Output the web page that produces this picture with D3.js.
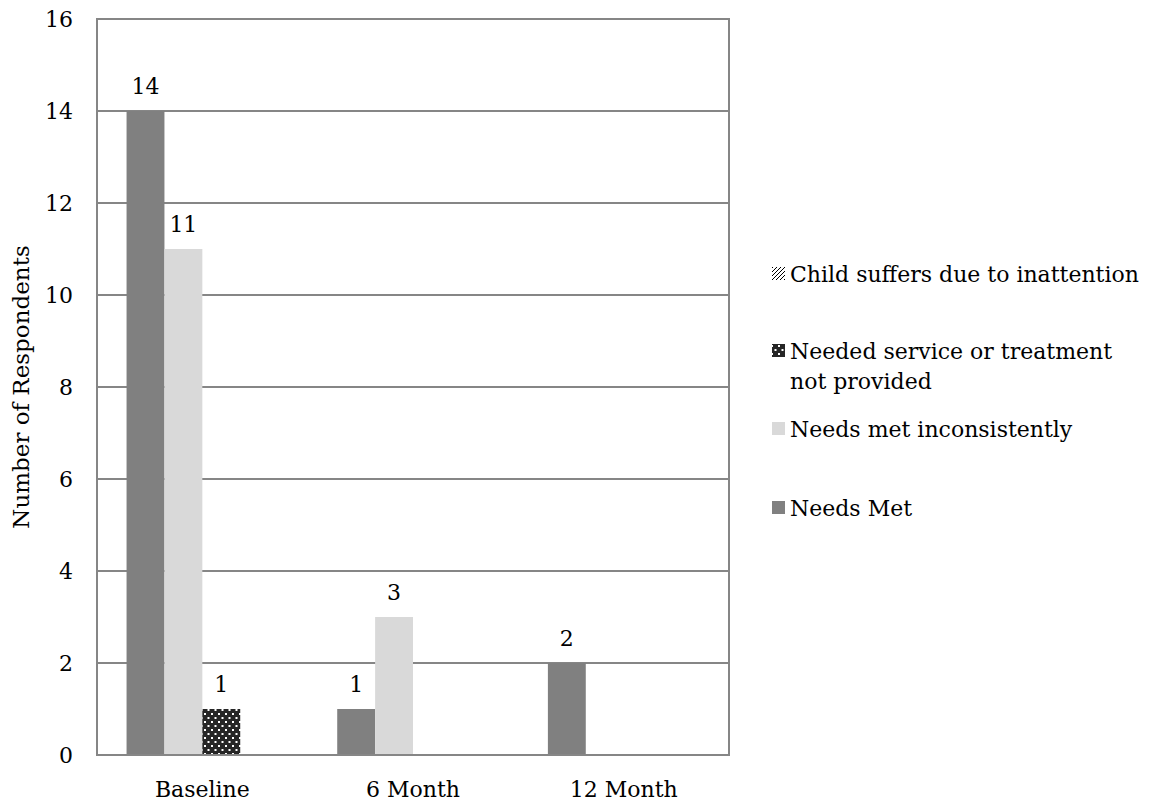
<!DOCTYPE html>
<html><head><meta charset="utf-8">
<script src="https://cdn.jsdelivr.net/npm/d3@7"></script>
<style>body{margin:0;background:#fff}</style>
</head><body>
<svg id="c" width="1149" height="804"></svg>
<script>
const categories = ["Baseline", "6 Month", "12 Month"];
const seriesNames = ["Needs Met", "Needs met inconsistently", "Needed service or treatment not provided", "Child suffers due to inattention"];
const needsMet = [14, 1, 2];
const needsInconsistent = [11, 3, 0];
const notProvided = [1, 0, 0];
const childSuffers = [0, 0, 0];
const yTicks = [0, 2, 4, 6, 8, 10, 12, 14, 16];

const seriesValues = [needsMet, needsInconsistent, notProvided, childSuffers];
const svg = d3.select("#c");
const font = "DejaVu Serif, serif";
const fs = 22;
const m = {l: 97, r: 729, t: 19, b: 755};

const defs = svg.append("defs");
const dots = defs.append("pattern").attr("id","dots").attr("patternUnits","userSpaceOnUse").attr("width",7).attr("height",8);
dots.append("rect").attr("width",7).attr("height",8).attr("fill","#262626");
dots.append("rect").attr("x",1).attr("y",1).attr("width",2).attr("height",2).attr("fill","#fff");
dots.append("rect").attr("x",4.5).attr("y",5).attr("width",2).attr("height",2).attr("fill","#fff");
const hatch = defs.append("pattern").attr("id","hatch").attr("patternUnits","userSpaceOnUse").attr("width",4).attr("height",4);
hatch.append("rect").attr("width",4).attr("height",4).attr("fill","#fff");
hatch.append("path").attr("d","M-1,1 l2,-2 M0,4 l4,-4 M3,5 l2,-2").attr("stroke","#000").attr("stroke-width",1);

const fills = ["#808080", "#d9d9d9", "url(#dots)", "url(#hatch)"];

const x = d3.scaleBand().domain(categories).range([m.l, m.r]);
const x1 = d3.scaleBand().domain(d3.range(4)).range([0, x.bandwidth()]).paddingOuter(0.78).paddingInner(0);
const y = d3.scaleLinear().domain([0, 16]).range([m.b, m.t]);

svg.append("g").selectAll("line").data(yTicks).join("line")
  .attr("x1", m.l).attr("x2", m.r).attr("y1", d=>y(d)).attr("y2", d=>y(d))
  .attr("stroke", "#868686").attr("stroke-width", 2);
svg.append("rect").attr("x", m.l).attr("y", m.t).attr("width", m.r-m.l).attr("height", m.b-m.t)
  .attr("fill","none").attr("stroke","#868686").attr("stroke-width",2);

categories.forEach((c, ci) => {
  seriesValues.forEach((vals, si) => {
    const v = vals[ci];
    if (v <= 0) return;
    const bx = x(c) + x1(si);
    svg.append("rect").attr("x", bx).attr("y", y(v)).attr("width", x1.bandwidth()).attr("height", y(0)-y(v))
      .attr("fill", fills[si]);
    svg.append("text").attr("x", bx + x1.bandwidth()/2).attr("y", y(v) - 17)
      .attr("text-anchor","middle").attr("font-family",font).attr("font-size",fs).attr("fill","#000").text(v);
  });
});
svg.append("line").attr("x1", m.l).attr("x2", m.r).attr("y1", m.b).attr("y2", m.b).attr("stroke","#868686").attr("stroke-width",2);

const yAxis = svg.append("g").attr("transform", `translate(${m.l},0)`)
  .call(d3.axisLeft(y).tickValues(yTicks).tickSize(0).tickPadding(24));
yAxis.select(".domain").remove();
yAxis.selectAll("text").attr("font-family", font).attr("font-size", fs).attr("fill","#000");

const xAxis = svg.append("g").attr("transform", `translate(0,${m.b})`)
  .call(d3.axisBottom(x).tickSize(0).tickPadding(26));
xAxis.select(".domain").remove();
xAxis.selectAll("text").attr("font-family", font).attr("font-size", fs).attr("fill","#000");

svg.append("text").attr("transform", "translate(29,387) rotate(-90)").attr("text-anchor","middle")
  .attr("font-family", font).attr("font-size", 23).attr("fill","#000").text("Number of Respondents");

const legend = [
  {i: 3, y: 274, lines: ["Child suffers due to inattention"]},
  {i: 2, y: 351, lines: ["Needed service or treatment", "not provided"]},
  {i: 1, y: 429, lines: ["Needs met inconsistently"]},
  {i: 0, y: 508, lines: ["Needs Met"]}
];
legend.forEach(d => {
  svg.append("rect").attr("x", 772).attr("y", d.y - 7).attr("width", 13).attr("height", 13).attr("fill", fills[d.i]);
  d.lines.forEach((t, k) => {
    svg.append("text").attr("x", 790).attr("y", d.y + k*30).attr("dy","0.35em")
      .attr("font-family", font).attr("font-size", fs).attr("fill","#000").text(t);
  });
});
</script>
</body></html>
